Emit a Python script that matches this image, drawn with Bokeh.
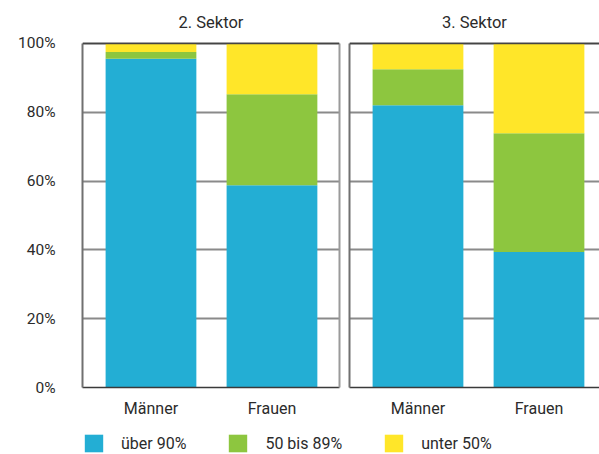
from bokeh.plotting import figure
from bokeh.models import (ColumnDataSource, Range1d, FixedTicker, Span, Label,
                          LinearAxis, Legend, LegendItem)
from bokeh.layouts import column, row
from bokeh.embed import file_html
from bokeh.resources import INLINE

# Share of working time (stacked, percent) by gender and sector
genders = ["Männer", "Frauen"]
share_groups = ["über 90%", "50 bis 89%", "unter 50%"]
y_ticks = [0, 20, 40, 60, 80, 100]

sector2_title = "2. Sektor"
sector2_over_90 = [95.5, 58.8]
sector2_mid = [2.0, 26.4]
sector2_under_50 = [2.5, 14.8]

sector3_title = "3. Sektor"
sector3_over_90 = [82.0, 39.4]
sector3_mid = [10.5, 34.5]
sector3_under_50 = [7.5, 26.1]

colors = ["#23AED4", "#8DC63F", "#FFE629"]
FONT = "Roboto"
TEXT = "#2b2b2b"
BAR_WIDTH = 0.75
X_START = -0.566
TOP_H = 420
Y_TOP = 112.46   # headroom above 100 % holds the panel heading


def make_source(over, mid, under):
    return ColumnDataSource(dict(
        x=list(range(len(genders))),
        over=over, mid=mid, under=under,
    ))


def edge_axis(color):
    # bare axis used only as a frame edge between 0 and 100 %
    return LinearAxis(ticker=FixedTicker(ticks=[]), bounds=(0, 100),
                      axis_line_color=color, axis_line_width=2,
                      major_tick_out=0, major_tick_in=0,
                      minor_tick_out=0, minor_tick_in=0,
                      major_label_standoff=0)


def panel(title, src, width, x_end, left_border, right_border, show_y):
    p = figure(width=width, height=TOP_H, output_backend="svg", toolbar_location=None,
               x_range=Range1d(X_START, x_end), y_range=Range1d(0, Y_TOP),
               min_border_left=left_border, min_border_right=right_border,
               min_border_top=0, min_border_bottom=20,
               y_axis_location="left" if show_y else None)
    p.vbar_stack(["over", "mid", "under"], x="x", width=BAR_WIDTH, color=colors,
                 line_color=None, source=src)

    p.outline_line_color = None
    p.background_fill_color = "white"
    p.border_fill_color = "white"

    # panel heading, centred over the bars
    p.add_layout(Label(x=(X_START + x_end) / 2, y=100, y_offset=21, text=title,
                       text_align="center", text_baseline="alphabetic",
                       text_font=FONT, text_font_size="16.5px",
                       text_color=TEXT))

    xa = p.xaxis[0]
    xa.ticker = FixedTicker(ticks=list(range(len(genders))))
    xa.major_label_overrides = {i: g for i, g in enumerate(genders)}
    xa.major_tick_out = 0
    xa.major_tick_in = 0
    xa.minor_tick_out = 0
    xa.minor_tick_in = 0
    xa.axis_line_color = "#3a3a3a"
    xa.axis_line_width = 1.5
    xa.major_label_standoff = 11
    xa.major_label_text_font = FONT
    xa.major_label_text_font_size = "16px"
    xa.major_label_text_color = TEXT

    if show_y:
        ya = p.yaxis[0]
        ya.ticker = FixedTicker(ticks=y_ticks)
        ya.bounds = (0, 100)
        ya.major_label_overrides = {t: f"{t}%" for t in y_ticks}
        ya.major_tick_out = 0
        ya.major_tick_in = 0
        ya.minor_tick_out = 0
        ya.minor_tick_in = 0
        ya.axis_line_color = "#707070"
        ya.axis_line_width = 2
        ya.major_label_standoff = 27
        ya.major_label_text_font = FONT
        ya.major_label_text_font_size = "15.5px"
        ya.major_label_text_color = TEXT
        p.add_layout(edge_axis("#9a9a9a"), "right")
    else:
        p.add_layout(edge_axis("#707070"), "left")

    p.xgrid.grid_line_color = None
    p.ygrid.ticker = FixedTicker(ticks=y_ticks)
    p.ygrid.grid_line_color = "#8a8a8a"
    p.ygrid.grid_line_width = 2

    p.add_layout(Span(location=100, dimension="width", line_color="#444444", line_width=1.5))
    return p


src2 = make_source(sector2_over_90, sector2_mid, sector2_under_50)
src3 = make_source(sector3_over_90, sector3_mid, sector3_under_50)

p1 = panel(sector2_title, src2, width=344, x_end=1.558, left_border=82,
           right_border=5, show_y=True)
p2 = panel(sector3_title, src3, width=255, x_end=1.500, left_border=5,
           right_border=0, show_y=False)

# Shared legend below both panels; its proxy renderers stay hidden
pl = figure(width=599, height=454 - TOP_H, output_backend="svg", toolbar_location=None,
            x_range=Range1d(0, 1), y_range=Range1d(0, 1),
            min_border=0, x_axis_location=None, y_axis_location=None)
pl.outline_line_color = None
pl.xgrid.visible = False
pl.ygrid.visible = False
proxies = pl.vbar_stack(["over", "mid", "under"], x="x", width=BAR_WIDTH,
                        color=colors, line_color=None, source=src2)
items = []
for name, r in zip(share_groups, proxies):
    r.visible = False
    items.append(LegendItem(label=name, renderers=[r]))
legend = Legend(items=items, orientation="horizontal", location=(82, 0),
                padding=0, margin=0, spacing=40, label_standoff=16,
                glyph_width=23, glyph_height=22, border_line_color=None,
                background_fill_alpha=0, inactive_fill_alpha=0,
                label_text_font=FONT, label_text_font_size="16px",
                label_text_color=TEXT)
pl.add_layout(legend, "center")

layout = column(row(p1, p2, spacing=0), pl, spacing=0)

with open("out.html", "w") as f:
    f.write(file_html(layout, INLINE))
